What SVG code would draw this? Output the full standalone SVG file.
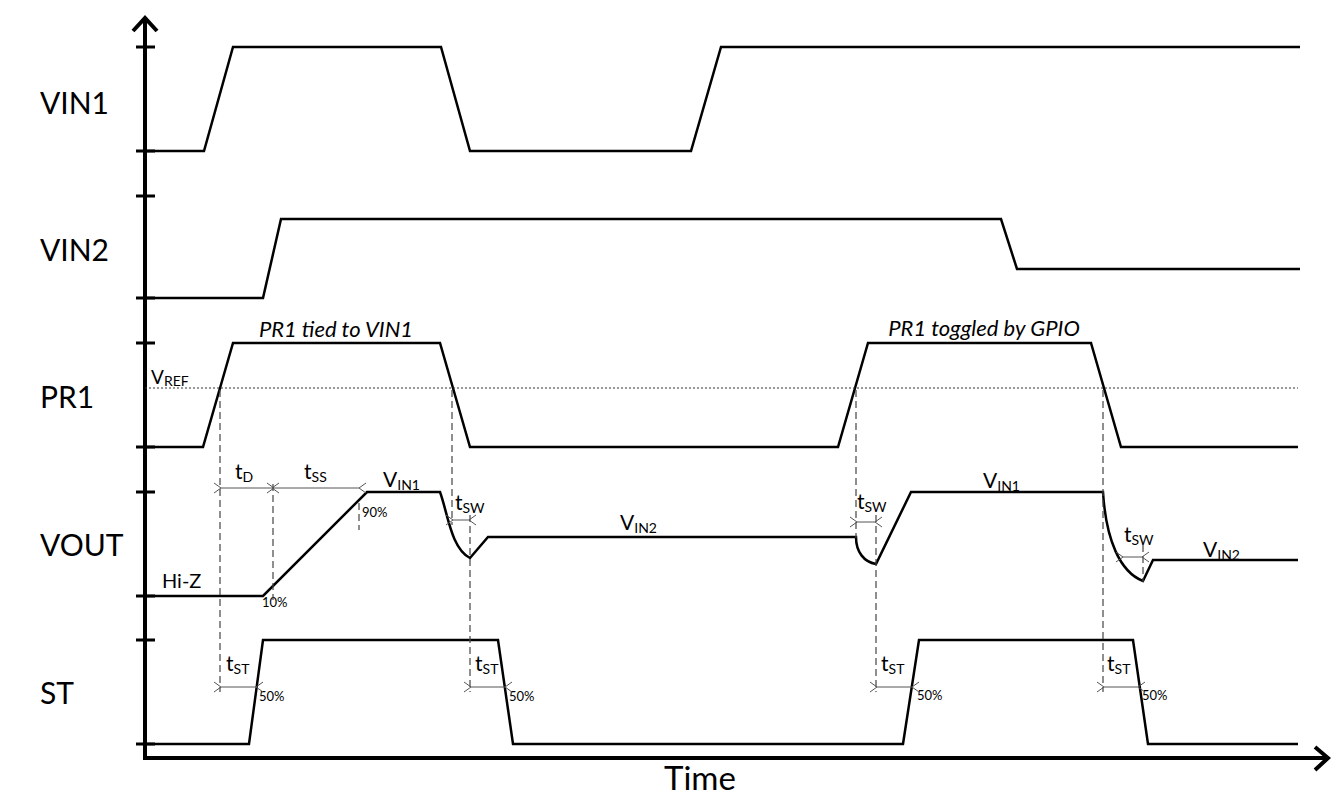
<svg xmlns="http://www.w3.org/2000/svg" width="1342" height="804" viewBox="0 0 1342 804">
<style>
.sig{fill:none;stroke:#000;stroke-width:2.5;stroke-linejoin:miter}
.ax{fill:none;stroke:#000;stroke-width:4}
.tk{fill:none;stroke:#000;stroke-width:3}
.dash{fill:none;stroke:#444;stroke-width:1.2;stroke-dasharray:7,4}
.dot{fill:none;stroke:#333;stroke-width:1;stroke-dasharray:2,2}
.dim{fill:none;stroke:#555;stroke-width:1;marker-start:url(#ah);marker-end:url(#ah)}
.lbl{font-family:Lato,"Liberation Sans",sans-serif;font-size:30px;fill:#000}
.it{font-family:Lato,"Liberation Sans",sans-serif;font-size:22px;font-style:italic;fill:#000}
.t{font-family:Lato,"Liberation Sans",sans-serif;font-size:21px;fill:#000}
.sub{font-size:14px}
.pc{font-family:Lato,"Liberation Sans",sans-serif;font-size:13px;fill:#000}
</style>
<defs>
<marker id="ah" viewBox="-1 -6 10 12" markerWidth="10" markerHeight="12" refX="0" refY="0" orient="auto-start-reverse" markerUnits="userSpaceOnUse">
<path d="M7,-5 L0,0 L7,5" fill="none" stroke="#555" stroke-width="1"/>
</marker>
</defs>
<rect width="1342" height="804" fill="#fff"/>
<g id="axes">
<path class="ax" d="M145,19 V758 H1327"/>
<path class="ax" d="M133,31 L145,18 L157,31"/>
<path class="ax" d="M1315,747 L1328,758 L1315,770"/>
<path class="tk" d="M136,47H155M136,151H155M136,196H155M136,298H155M136,343H155M136,447H155M136,492H155M136,596H155M136,640H155M136,744H155"/>
</g>
<g id="labels">
<text class="lbl" x="40" y="114">VIN1</text>
<text class="lbl" x="40" y="261">VIN2</text>
<text class="lbl" x="40" y="408">PR1</text>
<text class="lbl" x="40" y="556">VOUT</text>
<text class="lbl" x="40" y="704">ST</text>
<text class="lbl" x="700" y="790" text-anchor="middle" style="font-size:33px">Time</text>
</g>
<g id="vin1"><path class="sig" d="M145,151 H204 L233,47 H441 L470,151 H691 L721,47 H1300"/></g>
<g id="vin2"><path class="sig" d="M145,298 H263 L281,219 H1001 L1017,269 H1300"/></g>
<g id="pr1">
<path class="sig" d="M145,447 H203 L233,343 H440 L470,447 H838 L868,343 H1091 L1121,447 H1298"/>
<path class="dot" d="M145,388 H1298"/>
<text class="t" x="151" y="384" style="font-size:19px">V<tspan class="sub" dy="2">REF</tspan></text>
<text class="it" x="336" y="337" text-anchor="middle">PR1 tied to VIN1</text>
<text class="it" x="984" y="336" text-anchor="middle">PR1 toggled by GPIO</text>
</g>
<g id="vout">
<path class="sig" d="M145,596 H263 L367,492 H440 C448,514 451,548 470,558 L488,537 H856 C856,552 864,562 876,564 L911,492 H1103 C1106,540 1120,572 1143,581 L1153,560 H1298"/>
<text class="t" x="162" y="588" style="font-size:20px">Hi-Z</text>
<text class="pc" x="262" y="607">10%</text>
<text class="pc" x="362" y="517">90%</text>
<text class="t" x="383" y="487">V<tspan class="sub" dy="3">IN1</tspan></text>
<text class="t" x="620" y="530">V<tspan class="sub" dy="3">IN2</tspan></text>
<text class="t" x="983" y="488">V<tspan class="sub" dy="3">IN1</tspan></text>
<text class="t" x="1203" y="557">V<tspan class="sub" dy="3">IN2</tspan></text>
<text class="t" x="235" y="479">t<tspan class="sub" dy="3">D</tspan></text>
<text class="t" x="304" y="479">t<tspan class="sub" dy="3">SS</tspan></text>
<text class="t" x="455" y="510">t<tspan class="sub" dy="3">SW</tspan></text>
<text class="t" x="857" y="509">t<tspan class="sub" dy="3">SW</tspan></text>
<text class="t" x="1124" y="542">t<tspan class="sub" dy="3">SW</tspan></text>
</g>
<g id="st">
<path class="sig" d="M145,744 H249 L263,640 H498 L513,744 H903 L919,640 H1133 L1148,744 H1298"/>
<text class="t" x="226" y="671">t<tspan class="sub" dy="3">ST</tspan></text>
<text class="t" x="475" y="671">t<tspan class="sub" dy="3">ST</tspan></text>
<text class="t" x="881" y="671">t<tspan class="sub" dy="3">ST</tspan></text>
<text class="t" x="1107" y="671">t<tspan class="sub" dy="3">ST</tspan></text>
<text class="pc" x="259" y="701">50%</text>
<text class="pc" x="509" y="701">50%</text>
<text class="pc" x="917" y="700">50%</text>
<text class="pc" x="1142" y="700">50%</text>
</g>
<g id="connectors">
<path class="dash" d="M220,390 V692"/>
<path class="dash" d="M452,390 V525"/>
<path class="dash" d="M470,515 V692"/>
<path class="dash" d="M273,484 V600"/>
<path class="dash" d="M359,503 V530"/>
<path class="dash" d="M856,390 V538"/>
<path class="dash" d="M876,515 V692"/>
<path class="dash" d="M1103,390 V692"/>
<path class="dash" d="M1143,545 V582"/>
<path class="dim" d="M221,488 H272"/>
<path class="dim" d="M274,488 H359"/>
<path class="dim" d="M453,520 H469"/>
<path class="dim" d="M857,522 H875"/>
<path class="dim" d="M1123,557 H1142"/>
<path class="dim" d="M221,687 H256"/>
<path class="dim" d="M471,687 H505"/>
<path class="dim" d="M877,687 H912"/>
<path class="dim" d="M1104,687 H1138"/>
</g>
</svg>
